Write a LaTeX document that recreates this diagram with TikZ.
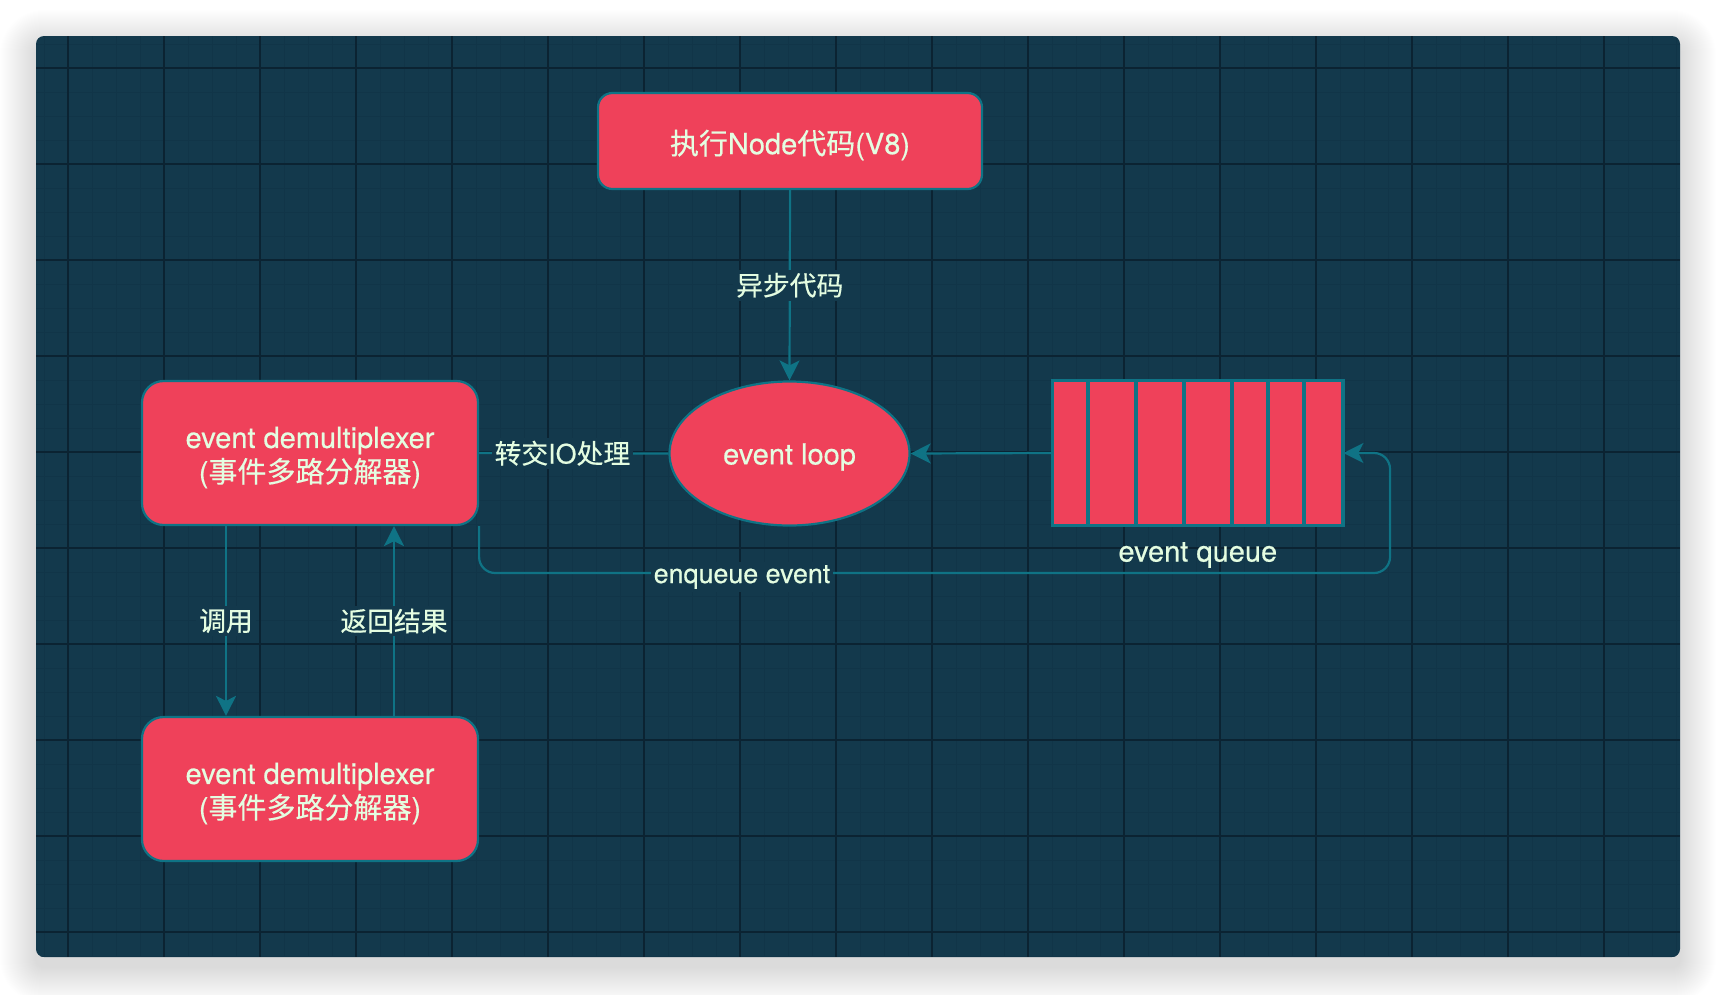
\documentclass[tikz,border=0pt]{standalone}
\usepackage{fontspec}
\setmainfont{TeX Gyre Heros}[FakeBold=0.5]
\newfontfamily\cjk{Noto Sans CJK SC}[FakeBold=0.4]
\usetikzlibrary{shapes.geometric,arrows.meta,calc}
\definecolor{bgc}{HTML}{13394C}
\definecolor{minorc}{HTML}{113548}
\definecolor{majorc}{HTML}{0B2332}
\definecolor{nodefill}{HTML}{EF415A}
\definecolor{nodeline}{HTML}{0F7385}
\definecolor{txt}{HTML}{E4FDE1}
\newcommand{\lowered}[2]{\raisebox{-#1}[\height][\depth]{#2}}
\newcommand{\twolines}[2]{\lowered{5.5pt}{\begin{tabular}{@{}c@{}}#1\\#2\end{tabular}}}
\tikzset{
  shapebox/.style={draw=nodeline, fill=nodefill, line width=2.2pt, text=txt,
    align=center, inner sep=0pt, font=\fontsize{29}{33}\selectfont},
  conn/.style={draw=nodeline, line width=2.2pt},
  arr/.style={-{Stealth[length=20pt,width=20pt,inset=5pt]}},
  lbl/.style={fill=bgc, text=txt, inner sep=3pt, font=\fontsize{26.8}{30}\selectfont},
}
\begin{document}
\begin{tikzpicture}[x=1pt,y=-1pt]
\useasboundingbox (0,0) rectangle (1716,994);
\fill[white] (0,0) rectangle (1716,994);
% window shadow
\foreach \k in {1,...,36}{
  \fill[black,opacity=0.0045,rounded corners={8pt+\k pt}] (36-\k,36-\k+10) rectangle (1680+\k,957+\k+10);
}
\fill[bgc, rounded corners=8pt] (36,36) rectangle (1680,957);
\begin{scope}
  \clip[rounded corners=8pt] (36,36) rectangle (1680,957);
  \foreach \x in {44,68,...,1676} \draw[minorc, line width=1pt] (\x,36) -- (\x,957);
  \foreach \y in {44,68,...,956} \draw[minorc, line width=1pt] (36,\y) -- (1680,\y);
  \foreach \x in {68,164,...,1604} \draw[majorc, line width=1.4pt] (\x,36) -- (\x,957);
  \foreach \y in {68,164,...,932} \draw[majorc, line width=1.4pt] (36,\y) -- (1680,\y);
\end{scope}

% nodes
\node[shapebox, rounded corners=14.4pt, minimum width=384pt, minimum height=96pt] (v8) at (790,141)
  {\lowered{4pt}{{\cjk 执行}Node{\cjk 代码}(V8)}};
\node[shapebox, ellipse, minimum width=240pt, minimum height=144pt] (loop) at (789.5,453.5)
  {\lowered{3.5pt}{event loop}};
\node[shapebox, rounded corners=21.6pt, minimum width=336pt, minimum height=144pt] (dm1) at (310,453)
  {\twolines{event demultiplexer}{({\cjk 事件多路分解器})}};
\node[shapebox, rounded corners=21.6pt, minimum width=336pt, minimum height=144pt] (dm2) at (310,789)
  {\twolines{event demultiplexer}{({\cjk 事件多路分解器})}};
\node[shapebox, minimum width=289pt, minimum height=144pt] (queue) at (1197.8,453) {};
\foreach \d in {36,84,132,180,216,252}
  \draw[nodeline, line width=4.5pt] ($(queue.north west)+(\d,1.1)$) -- ($(queue.south west)+(\d,-1.1)$);
\draw[nodeline, line width=2.2pt] (queue.north west) rectangle (queue.south east);
\node[text=txt, font=\fontsize{29}{33}\selectfont, inner sep=0pt] (qlabel) at (1197.8,555) {event queue};

% connectors
\draw[conn, arr] (v8.south) -- node[lbl] {\cjk 异步代码} (loop.north);
\draw[conn] (dm1.east) -- node[lbl, pos=0.44] {{\cjk 转交}IO{\cjk 处理}} (loop.west);
\draw[conn, arr] (queue.west) -- (loop.east);
\draw[conn, arr] ([xshift=-84pt]dm1.south) -- node[lbl] {\cjk 调用} ([xshift=-84pt]dm2.north);
\draw[conn, arr] ([xshift=84pt]dm2.north) -- node[lbl, pos=0.50] {\cjk 返回结果} ([xshift=84pt]dm1.south);
\coordinate (qturn) at (1390,573);
\draw[conn, arr, rounded corners=16pt] (dm1.south east) |- (qturn) |- (queue.east);
\node[lbl] (enq) at (742,577) {enqueue event};
\end{tikzpicture}
\end{document}
